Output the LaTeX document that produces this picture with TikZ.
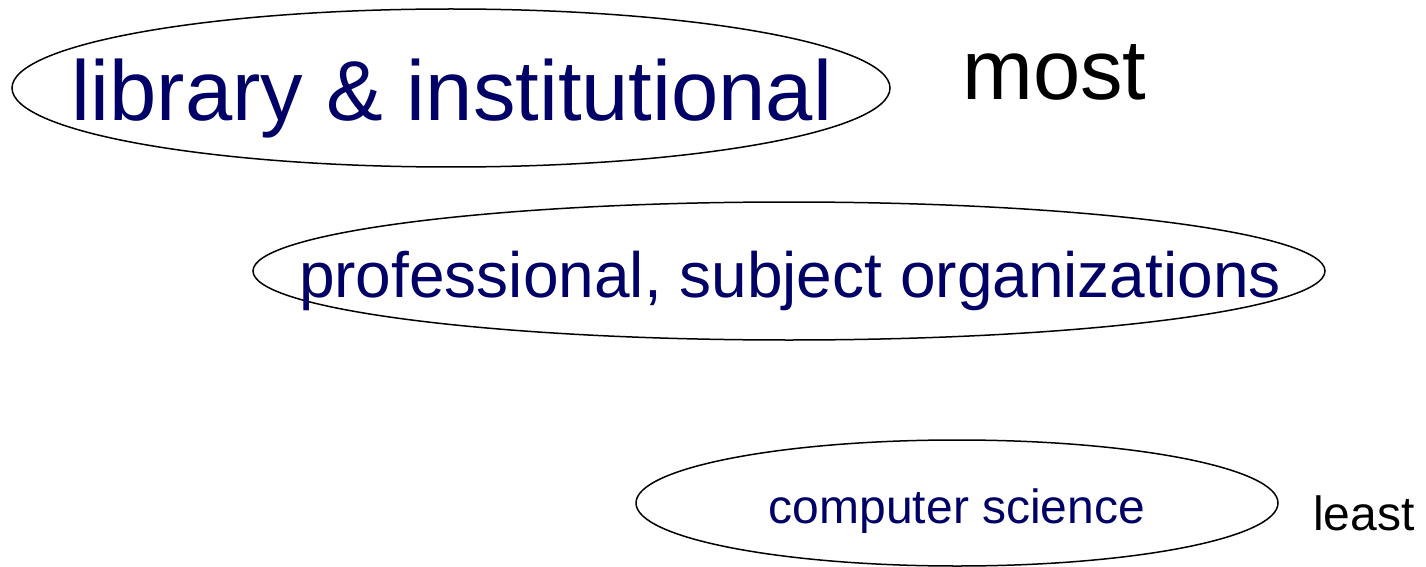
\documentclass[tikz,border=0pt]{standalone}
\usepackage{fontspec}
\setmainfont{Liberation Sans}
\usetikzlibrary{shapes.geometric}
\definecolor{navy}{RGB}{0,0,102}
\begin{document}
\begin{tikzpicture}[x=1pt,y=1pt,
  ring/.style={draw=black,line width=1.5pt,ellipse,inner sep=0pt},
  label/.style={inner sep=0pt,anchor=base}]
  \useasboundingbox (0,0) rectangle (1426,566);
  % the three ellipses
  \node[ring,minimum width=878,minimum height=158] (lib) at (451,478) {};
  \node[ring,minimum width=1072,minimum height=138] (prof) at (789,295) {};
  \node[ring,minimum width=642,minimum height=126] (cs) at (957,63) {};
  % texts inside the ellipses
  \node[label,text=navy,font=\fontsize{85}{100}\selectfont] (libtxt) at (452,445) {library \& institutional};
  \node[label,text=navy,font=\fontsize{64}{76}\selectfont] (proftxt) at (790,269) {professional, subject organizations};
  \node[label,text=navy,font=\fontsize{48}{58}\selectfont] (cstxt) at (957,43) {computer science};
  % scale ends
  \node[label,anchor=base west,font=\fontsize{85}{100}\selectfont] (most) at (962,466) {most};
  \node[label,anchor=base west,font=\fontsize{48}{58}\selectfont] (least) at (1313,36) {least};
\end{tikzpicture}
\end{document}
